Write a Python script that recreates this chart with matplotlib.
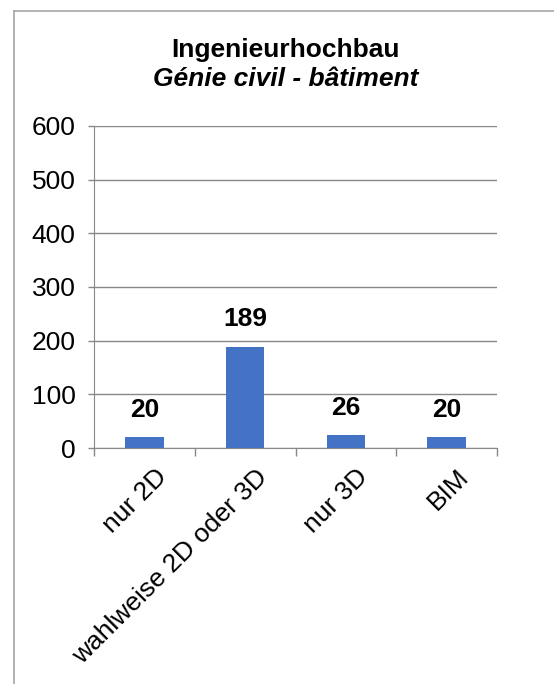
import matplotlib.pyplot as plt
from matplotlib.lines import Line2D
from matplotlib.transforms import ScaledTranslation

categories = ["nur 2D", "wahlweise 2D oder 3D", "nur 3D", "BIM"]
values = [20, 189, 26, 20]
bar_heights = [20, 189, 24, 20]
yticks = [0, 100, 200, 300, 400, 500, 600]

plt.rcParams["font.family"] = ["Liberation Sans", "DejaVu Sans"]

fig = plt.figure(figsize=(5.54, 6.84), dpi=100)
ax = fig.add_axes([0.170, 0.345, 0.727, 0.471])

x = range(len(categories))
ax.bar(x, bar_heights, width=0.38, color="#4472C4", zorder=3)
for xi, h, v in zip(x, bar_heights, values):
    ax.annotate(str(v), (xi, h), xytext=(0, 19.5), textcoords="offset points",
                ha="center", va="center", fontsize=19, fontweight="bold")

ax.set_xlim(-0.5, len(categories) - 0.5)
ax.set_ylim(0, 600)
ax.set_yticks(yticks)
ax.tick_params(axis="y", labelsize=19, color="#888888", length=4.5, width=1, pad=9)
ax.yaxis.grid(True, color="#888888", linewidth=1, zorder=0)

ax.set_xticks(list(x))
ax.set_xticklabels(categories, rotation=45, ha="right", rotation_mode="anchor",
                   fontsize=19)
ax.tick_params(axis="x", length=0, pad=12)
shift = ScaledTranslation(7 / 72, 0, fig.dpi_scale_trans)
for lbl in ax.get_xticklabels():
    lbl.set_transform(lbl.get_transform() + shift)
# category separators
ax.set_xticks([i - 0.5 for i in range(len(categories) + 1)], minor=True)
ax.tick_params(axis="x", which="minor", length=6, color="#888888", width=1)

for s in ["top", "right"]:
    ax.spines[s].set_visible(False)
for s in ["left", "bottom"]:
    ax.spines[s].set_color("#888888")

fig.text(0.516, 0.916, "Ingenieurhochbau", ha="center", va="baseline",
         fontsize=19, fontweight="bold")
fig.text(0.516, 0.874, "Génie civil - bâtiment", ha="center", va="baseline",
         fontsize=19, fontweight="bold", style="italic")

# chart frame (left and top edges visible)
fig.add_artist(Line2D([0.026, 0.026], [0.0, 0.984], color="#a6a6a6", lw=1.2))
fig.add_artist(Line2D([0.026, 1.0], [0.984, 0.984], color="#a6a6a6", lw=1.2))

fig.savefig("out.png", dpi=100)
